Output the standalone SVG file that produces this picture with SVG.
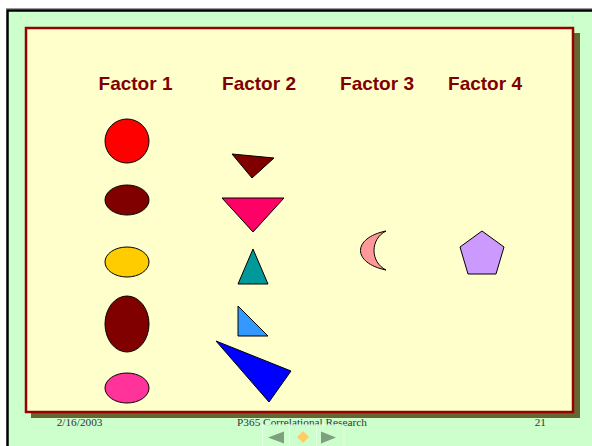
<svg xmlns="http://www.w3.org/2000/svg" width="592" height="446" viewBox="0 0 592 446">
<style>
.lbl{font-family:"Liberation Sans",Arial,sans-serif;font-weight:bold;font-size:19px;fill:#800000;text-anchor:middle}
.ft{font-family:"Liberation Serif","Times New Roman",serif;font-size:11.3px;fill:#333333}
.sh{stroke:#000;stroke-width:1}
.nav{fill:#7f9f7f}
</style>
<rect x="0" y="0" width="592" height="446" fill="#ffffff"/>
<rect x="7" y="9" width="585" height="437" fill="#ccffcc"/>
<line x1="6" y1="8.5" x2="592" y2="8.5" stroke="#9a9a9a" stroke-width="1"/>
<path d="M7.5,446 V10.5 H592" fill="none" stroke="#000" stroke-width="2.5"/>
<g id="frame">
<rect x="31" y="33" width="549" height="385" fill="#666633"/>
<rect x="26" y="28" width="547" height="384" fill="#ffffcc" stroke="#990000" stroke-width="2.5"/>
</g>
<g id="labels">
<text class="lbl" x="135.5" y="90">Factor 1</text>
<text class="lbl" x="259" y="90">Factor 2</text>
<text class="lbl" x="377" y="90">Factor 3</text>
<text class="lbl" x="485" y="90">Factor 4</text>
</g>
<g id="factor1">
<ellipse class="sh" cx="127" cy="141" rx="22" ry="22" fill="#ff0000"/>
<ellipse class="sh" cx="127" cy="200" rx="22" ry="15" fill="#800000"/>
<ellipse class="sh" cx="127" cy="262" rx="22" ry="15" fill="#ffcc00"/>
<ellipse class="sh" cx="127" cy="324" rx="22" ry="28" fill="#800000"/>
<ellipse class="sh" cx="127" cy="388" rx="22" ry="15" fill="#ff3399"/>
</g>
<g id="factor2">
<polygon class="sh" points="232,154 274,158 252,178" fill="#800000"/>
<polygon class="sh" points="222,198 284,198 253,232" fill="#ff0066"/>
<polygon class="sh" points="253,249 238,284 268,284" fill="#009999"/>
<polygon class="sh" points="238,306 238,336 268,336" fill="#3399ff"/>
<polygon class="sh" points="216,341 291,371 269,402" fill="#0000ff"/>
</g>
<g id="factor3">
<path class="sh" d="M386,231 C352,238 352,263 386,270 C370,262 370,239 386,231 Z" fill="#ff9999"/>
</g>
<g id="factor4">
<polygon class="sh" points="482,231 504,247 496,274 468,274 460,247" fill="#cc99ff"/>
</g>
<g id="footer">
<text class="ft" x="56.7" y="426">2/16/2003</text>
<text class="ft" x="302" y="426" text-anchor="middle">P365 Correlational Research</text>
<text class="ft" x="546" y="426" text-anchor="end">21</text>
</g>
<g id="navigation">
<rect x="262.5" y="425" width="81.5" height="22" fill="#ccffcc" fill-opacity="0.75" stroke="#e6ffe6" stroke-width="1"/>
<line x1="289.5" y1="425" x2="289.5" y2="446" stroke="#e6ffe6"/>
<line x1="316.5" y1="425" x2="316.5" y2="446" stroke="#e6ffe6"/>
<polygon class="nav" points="268,437.5 284,431.5 284,443.5"/>
<polygon fill="#ffcc66" points="303,431 309,437 303,443 297,437"/>
<polygon class="nav" points="336,437.5 321,431.5 321,443.5"/>
</g>
</svg>
